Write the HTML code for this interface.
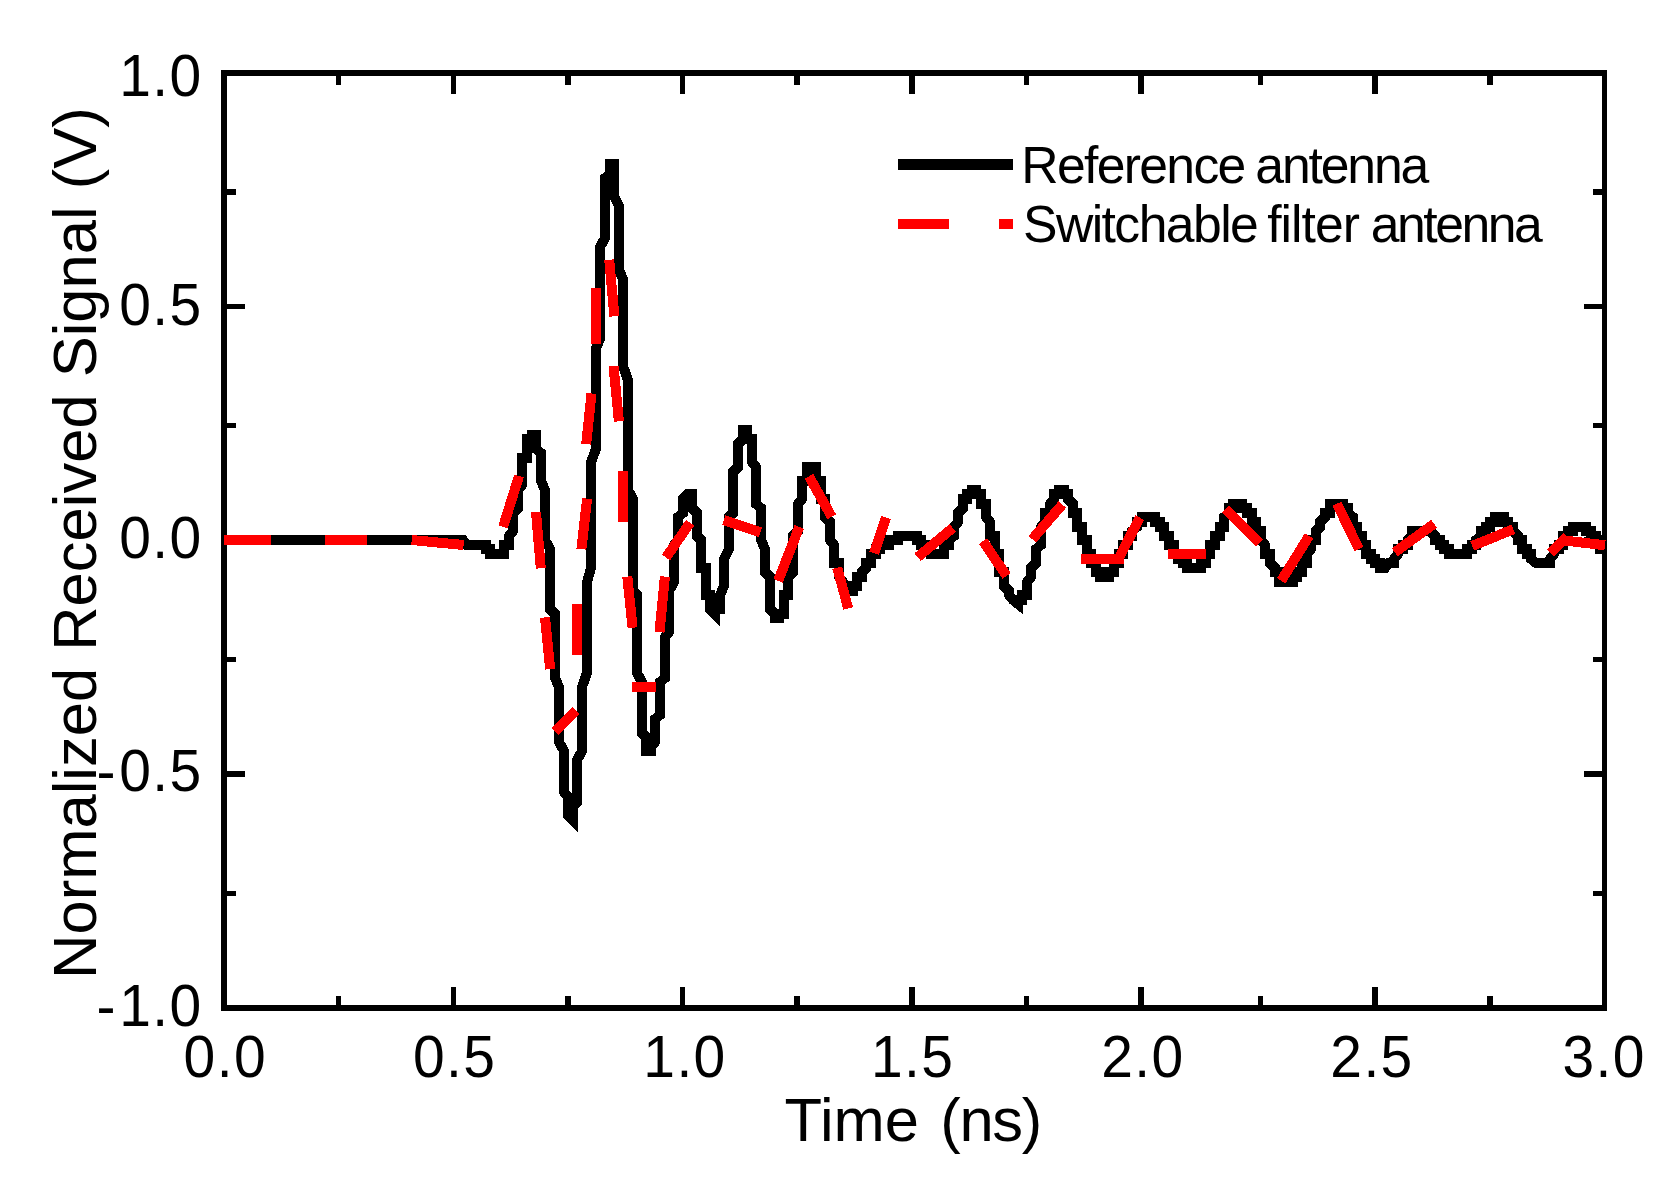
<!DOCTYPE html>
<html lang="en">
<head>
<meta charset="utf-8">
<title>Normalized Received Signal</title>
<style>
html,body{margin:0;padding:0;background:#fff;}
body{width:1670px;height:1179px;overflow:hidden;}
svg{display:block;}
text{font-family:"Liberation Sans",Arial,Helvetica,sans-serif;fill:#000;}
.tk text{font-size:57px;letter-spacing:1.4px;}
.ttl{font-size:61.5px;}
.lg text{font-size:51.7px;}
</style>
</head>
<body>
<svg width="1670" height="1179" viewBox="0 0 1670 1179">
<rect x="0" y="0" width="1670" height="1179" fill="#ffffff"/>
<g shape-rendering="crispEdges" fill="none">
<path d="M338.6 1008 V996 M338.6 73 V85 M453.3 1008 V987 M453.3 73 V94 M568 1008 V996 M568 73 V85 M682.6 1008 V987 M682.6 73 V94 M797.2 1008 V996 M797.2 73 V85 M911.9 1008 V987 M911.9 73 V94 M1026.6 1008 V996 M1026.6 73 V85 M1141.2 1008 V987 M1141.2 73 V94 M1260.4 1008 V996 M1260.4 73 V85 M1375.1 1008 V987 M1375.1 73 V94 M1489.7 1008 V996 M1489.7 73 V85 M224 191.7 H236 M1605 191.7 H1593 M224 306.3 H245 M1605 306.3 H1584 M224 425.6 H236 M1605 425.6 H1593 M224 540.2 H245 M1605 540.2 H1584 M224 659.5 H236 M1605 659.5 H1593 M224 774.1 H245 M1605 774.1 H1584 M224 893.4 H236 M1605 893.4 H1593" stroke="#000" stroke-width="5.6"/>
<path d="M221 70H1607V76H221Z M221 1005H1607V1011H221Z M221 70H227V1011H221Z M1602 70H1607V1011H1602Z" fill="#000" stroke="none"/>
<path d="M224 540 L463 540 L467 545 L486 545 L486 549 L490 549 L490 554 L504 554 L504 545 L509 545 L509 536 L513 531 L513 513 L518 508 L518 490 L522 485 L522 458 L527 458 L527 439 L532 439 L532 435 L536 435 L536 449 L541 453 L541 481 L545 490 L545 540 L550 549 L550 609 L555 614 L555 678 L559 687 L559 742 L564 751 L564 792 L568 797 L568 815 L573 820 L573 806 L577 802 L577 760 L582 751 L582 687 L587 673 L587 582 L591 568 L591 462 L596 449 L596 348 L600 339 L600 247 L605 238 L605 178 L610 174 L610 164 L614 164 L614 196 L619 206 L619 270 L623 279 L623 366 L628 380 L628 490 L633 499 L633 591 L637 595 L637 673 L642 682 L642 733 L646 737 L646 751 L651 751 L651 747 L655 742 L655 719 L660 715 L660 682 L665 678 L665 637 L669 632 L669 591 L674 582 L674 545 L678 540 L678 517 L683 513 L683 499 L688 494 L692 494 L692 508 L697 513 L697 536 L701 540 L701 568 L706 568 L706 595 L710 595 L710 609 L715 614 L715 609 L720 609 L720 595 L724 586 L724 559 L729 549 L729 517 L733 513 L733 472 L738 467 L738 444 L743 439 L743 430 L747 430 L747 439 L752 439 L752 462 L756 467 L756 504 L761 508 L761 540 L765 549 L765 572 L770 577 L770 609 L775 614 L775 618 L779 618 L779 614 L784 614 L784 595 L788 595 L788 577 L793 572 L793 536 L798 531 L798 504 L802 499 L802 481 L807 481 L807 467 L816 467 L816 481 L821 481 L821 499 L825 499 L825 517 L830 522 L830 540 L834 545 L834 563 L839 563 L839 577 L843 582 L843 586 L848 586 L848 591 L853 591 L853 586 L857 586 L857 577 L862 577 L862 572 L866 568 L866 563 L871 563 L871 554 L876 554 L876 549 L880 549 L880 545 L889 545 L889 540 L898 540 L898 536 L917 536 L917 540 L921 540 L921 545 L926 545 L926 549 L931 549 L931 554 L944 554 L944 545 L949 545 L949 540 L954 536 L954 527 L958 522 L958 513 L963 508 L963 499 L967 499 L967 494 L972 494 L972 490 L976 490 L976 494 L981 494 L981 504 L986 504 L986 517 L990 522 L990 536 L995 536 L995 554 L999 554 L999 572 L1004 572 L1004 586 L1009 591 L1009 595 L1013 600 L1018 604 L1018 600 L1022 600 L1022 595 L1027 595 L1027 582 L1031 577 L1031 568 L1036 563 L1036 549 L1041 545 L1041 527 L1045 522 L1045 513 L1050 513 L1050 504 L1054 499 L1054 494 L1059 494 L1059 490 L1064 490 L1064 494 L1068 494 L1068 499 L1073 504 L1073 513 L1077 513 L1077 527 L1082 527 L1082 540 L1087 540 L1087 554 L1091 554 L1091 563 L1096 563 L1096 572 L1100 572 L1100 577 L1109 577 L1109 572 L1114 572 L1114 563 L1119 563 L1119 554 L1123 554 L1123 545 L1128 545 L1128 536 L1132 536 L1132 531 L1137 527 L1137 522 L1142 522 L1142 517 L1155 517 L1155 522 L1160 522 L1160 527 L1164 527 L1164 536 L1169 536 L1169 545 L1174 545 L1174 554 L1178 554 L1178 559 L1183 559 L1183 563 L1187 563 L1187 568 L1201 568 L1201 563 L1206 563 L1206 554 L1210 554 L1210 545 L1215 545 L1215 536 L1220 536 L1220 527 L1224 527 L1224 517 L1229 513 L1229 508 L1233 508 L1233 504 L1242 504 L1242 508 L1247 508 L1247 513 L1252 513 L1252 522 L1256 522 L1256 531 L1261 531 L1261 540 L1265 545 L1265 554 L1270 554 L1270 563 L1275 568 L1275 572 L1279 572 L1279 582 L1293 582 L1293 577 L1297 577 L1297 572 L1302 572 L1302 563 L1307 563 L1307 554 L1311 549 L1311 540 L1316 540 L1316 531 L1320 527 L1320 522 L1325 517 L1325 513 L1330 513 L1330 504 L1343 504 L1343 508 L1348 508 L1348 513 L1353 517 L1353 527 L1357 527 L1357 536 L1362 536 L1362 545 L1366 545 L1366 554 L1371 554 L1371 559 L1375 559 L1375 563 L1380 563 L1380 568 L1385 568 L1389 563 L1394 563 L1394 559 L1398 554 L1398 549 L1403 549 L1403 545 L1408 545 L1408 540 L1412 536 L1412 531 L1430 531 L1435 536 L1435 540 L1440 540 L1440 545 L1444 545 L1444 549 L1449 549 L1449 554 L1467 554 L1467 549 L1472 549 L1472 545 L1476 545 L1476 540 L1481 536 L1481 531 L1486 531 L1486 527 L1490 527 L1490 522 L1495 522 L1495 517 L1504 517 L1504 522 L1508 522 L1508 527 L1513 527 L1513 531 L1518 536 L1518 540 L1522 540 L1522 549 L1527 549 L1527 554 L1531 554 L1531 559 L1536 563 L1550 563 L1550 559 L1554 554 L1554 549 L1559 549 L1559 545 L1563 545 L1563 536 L1568 536 L1568 531 L1573 531 L1573 527 L1586 527 L1586 531 L1591 531 L1591 536 L1596 536 L1596 540 L1600 540 L1600 549 L1605 549" stroke="#000" stroke-width="10.0" stroke-linejoin="miter" stroke-miterlimit="6" stroke-linecap="butt"/>
<path d="M224 540 L271 540 M325 540 L367 540 M411.7 540 L463.6 545 M503.1 526.9 L519 476 M536 512 L540.8 568.3 M545 617.4 L550.2 669.1 M555.3 731.6 L575.9 710.5 M576.9 655 L576.9 604 M581.4 549.1 L587.1 498.6 M586.2 444.1 L591.5 393.5 M596 343.8 L596 288.1 M609.2 259.8 L614.4 316.3 M613.5 365.9 L618.9 421.3 M623 471 L623 521.8 M627.3 576.6 L632.6 627.8 M632.2 687 L656 687 M659.5 632.2 L664.9 576.6 M666 557.5 L690.1 522.7 M723.8 520.2 L760.5 532.3 M778.1 580.8 L799.3 526.9 M808.9 476.3 L831.7 516.8 M837.2 567.7 L848.2 608.4 M874.1 553.2 L886.1 517.4 M917.6 557.2 L952.7 527.9 M983.1 541.1 L1006.6 576 M1032.3 539.2 L1062.3 504.5 M1081.2 558.9 L1124 558.9 M1117.2 561.5 L1139.7 517.6 M1168 554 L1206 554 M1225.5 509.3 L1259.3 543 M1281.2 580.8 L1309.1 535.9 M1336.9 503.8 L1359 549 M1394.7 552.3 L1434.1 523.8 M1472.2 546 L1513.3 529.3 M1550.7 553.2 L1567.1 536.8 M1566 540.7 L1605 545.3" stroke="#ff0000" stroke-width="10" stroke-linejoin="miter" stroke-linecap="butt"/>
<path d="M898 164.5 H1013" stroke="#000" stroke-width="10.6"/>
<path d="M898 223.8 H949 M999 223.8 H1013" stroke="#ff0000" stroke-width="10"/>
</g>
<g class="tk">
<text transform="translate(225.3 1077) scale(1 1.053)" text-anchor="middle">0.0</text>
<text transform="translate(454.6 1077) scale(1 1.053)" text-anchor="middle">0.5</text>
<text transform="translate(685 1077) scale(1 1.053)" text-anchor="middle">1.0</text>
<text transform="translate(912.7 1077) scale(1 1.053)" text-anchor="middle">1.5</text>
<text transform="translate(1142.9 1077) scale(1 1.053)" text-anchor="middle">2.0</text>
<text transform="translate(1372 1077) scale(1 1.053)" text-anchor="middle">2.5</text>
<text transform="translate(1604.2 1077) scale(1 1.053)" text-anchor="middle">3.0</text>
<text transform="translate(202.7 96) scale(1 1.053)" text-anchor="end">1.0</text>
<text transform="translate(202.7 324.6) scale(1 1.053)" text-anchor="end">0.5</text>
<text transform="translate(202.7 558.4) scale(1 1.053)" text-anchor="end">0.0</text>
<text transform="translate(205.2 791.3) scale(1 1.053)" text-anchor="end"><tspan dx="-2.5">-</tspan><tspan dx="2.5">0.5</tspan></text>
<text transform="translate(205.2 1026) scale(1 1.053)" text-anchor="end"><tspan dx="-2.5">-</tspan><tspan dx="2.5">1.0</tspan></text>
</g>
<text class="ttl" x="784.6" y="1141">Time</text>
<text class="ttl" x="940.3" y="1141" textLength="101.9" lengthAdjust="spacing">(ns)</text>
<text class="ttl" transform="translate(96.4 978.9) rotate(-90)">Normalized Received Signal (V)</text>
<g class="lg">
<text x="1021.3" y="182.8" textLength="225" lengthAdjust="spacing">Reference</text>
<text x="1255.3" y="182.8" textLength="174" lengthAdjust="spacing">antenna</text>
<text x="1023" y="242.1" textLength="235.8" lengthAdjust="spacing">Switchable</text>
<text x="1267.2" y="242.1" textLength="92.8" lengthAdjust="spacing">filter</text>
<text x="1370.7" y="242.1" textLength="172" lengthAdjust="spacing">antenna</text>
</g>
</svg>
</body>
</html>
